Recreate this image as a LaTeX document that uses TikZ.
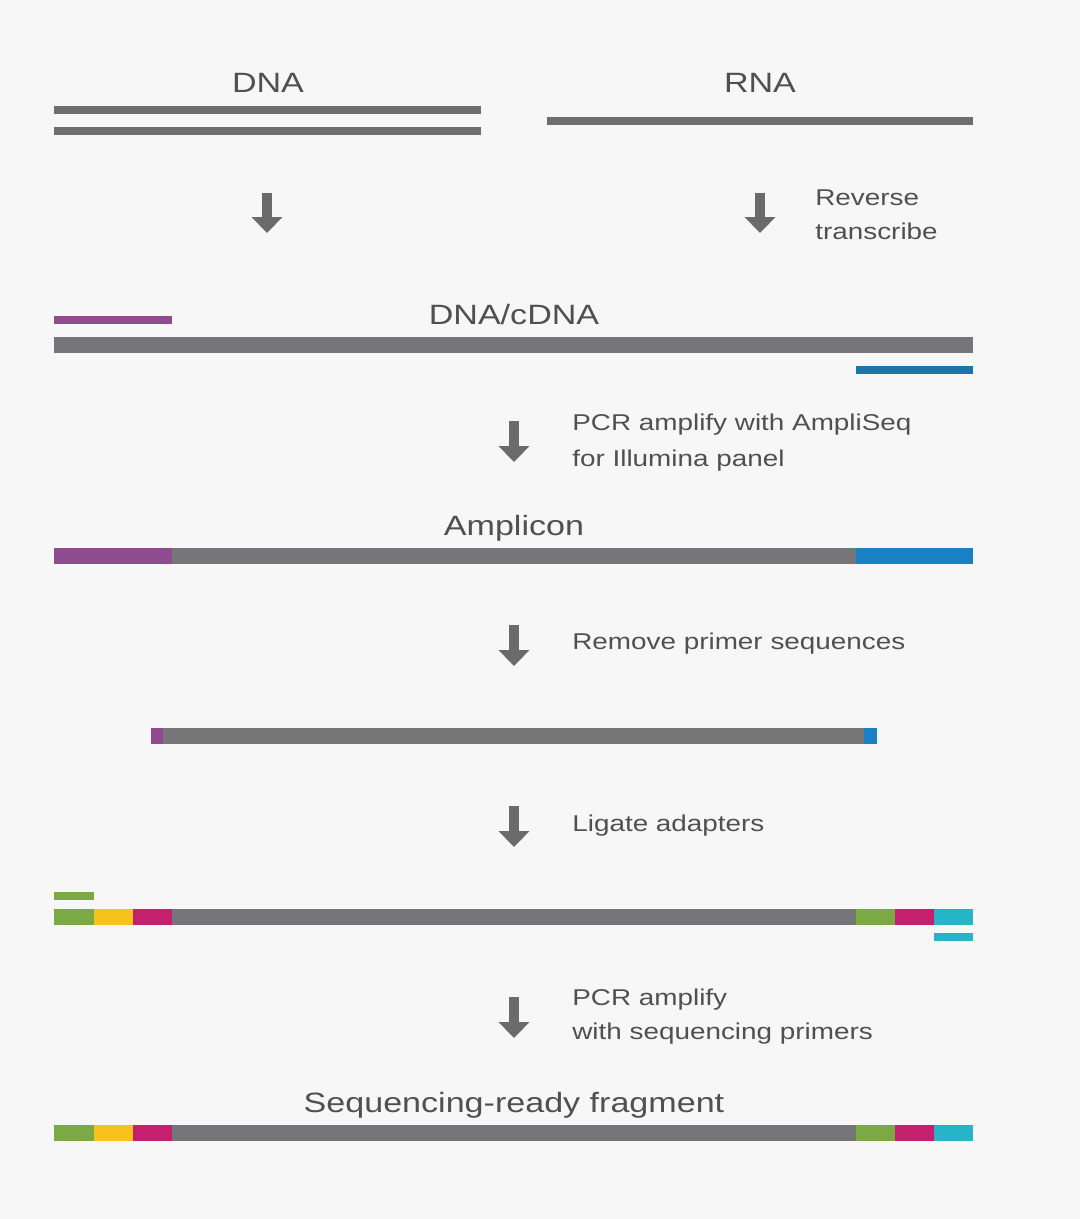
\documentclass[tikz,border=0pt]{standalone}
\usepackage{fontspec}
\setmainfont{Liberation Sans}[FakeStretch=1.22]
\usetikzlibrary{arrows.meta}
\definecolor{bg}{HTML}{F7F7F7}
\definecolor{strandgray}{HTML}{6E6E6E}
\definecolor{bargray}{HTML}{767678}
\definecolor{arrowgray}{HTML}{6B6B6B}
\definecolor{txt}{HTML}{505050}
\definecolor{purp}{HTML}{8E4C8E}
\definecolor{pblue}{HTML}{1B75A8}
\definecolor{ablue}{HTML}{1A80C4}
\definecolor{agreen}{HTML}{7BAA45}
\definecolor{ayellow}{HTML}{F7C21B}
\definecolor{amag}{HTML}{C4206E}
\definecolor{acyan}{HTML}{26B5C6}
\begin{document}
\begin{tikzpicture}[x=0.02cm,y=-0.02cm,
  bar/.style={draw=#1,line width=9.07pt,line cap=butt},
  strand/.style={draw=#1,line width=4.1pt,line cap=butt},
  titletext/.style={font=\fontsize{15.9}{19}\selectfont,text=txt,inner sep=0pt,anchor=base},
  notetext/.style={font=\fontsize{13}{19.5}\selectfont,text=txt,inner sep=0pt,anchor=base west},
  steparrow/.style={draw=arrowgray,line width=5.7pt,-{Triangle[width=17pt,length=9pt]}}]
\fill[bg] (0,0) rectangle (1080,1219);
\useasboundingbox (0,0) rectangle (1080,1219);
% titles
\node[titletext] (tdna) at (268,93) {DNA};
\node[titletext] (trna) at (760,93) {RNA};
\node[titletext] (tcdna) at (514,325) {DNA/cDNA};
\node[titletext] (tamp) at (514,535) {Amplicon};
\node[titletext] (tseq) at (514,1112) {Sequencing-ready fragment};
% step notes
\node[notetext] (n1a) at (815,206) {Reverse};
\node[notetext] (n1b) at (815,240) {transcribe};
\node[notetext] (n2a) at (572,430) {PCR amplify with AmpliSeq};
\node[notetext] (n2b) at (572,466) {for Illumina panel};
\node[notetext] (n3) at (572,649) {Remove primer sequences};
\node[notetext] (n4) at (572,831) {Ligate adapters};
\node[notetext] (n5a) at (572,1005) {PCR amplify};
\node[notetext] (n5b) at (572,1039) {with sequencing primers};
% arrows
\coordinate (a1s) at (267,193); \coordinate (a1e) at (267,233);
\coordinate (a2s) at (760,193); \coordinate (a2e) at (760,233);
\coordinate (a3s) at (514,421); \coordinate (a3e) at (514,462);
\coordinate (a4s) at (514,625); \coordinate (a4e) at (514,666);
\coordinate (a5s) at (514,806); \coordinate (a5e) at (514,847);
\coordinate (a6s) at (514,997); \coordinate (a6e) at (514,1038);
\foreach \i in {1,...,6} {\draw[steparrow] (a\i s) -- (a\i e);}
% DNA / RNA strands
\draw[strand=strandgray] (54,110) -- (481,110);
\draw[strand=strandgray] (54,131) -- (481,131);
\draw[strand=strandgray] (547,121) -- (973,121);
% DNA/cDNA with primers
\draw[strand=purp] (54,320) -- (172,320);
\draw[bar=bargray] (54,345) -- (973,345);
\draw[strand=pblue] (856,370) -- (973,370);
% amplicon
\draw[bar=purp] (54,556) -- (172,556);
\draw[bar=bargray] (172,556) -- (856,556);
\draw[bar=ablue] (856,556) -- (973,556);
% trimmed
\draw[bar=purp] (151,736) -- (163,736);
\draw[bar=bargray] (163,736) -- (864,736);
\draw[bar=ablue] (864,736) -- (877,736);
% ligated
\draw[strand=agreen] (54,896) -- (94,896);
\foreach \y in {917,1133} {
  \draw[bar=agreen] (54,\y) -- (94,\y);
  \draw[bar=ayellow] (94,\y) -- (133,\y);
  \draw[bar=amag] (133,\y) -- (172,\y);
  \draw[bar=bargray] (172,\y) -- (856,\y);
  \draw[bar=agreen] (856,\y) -- (895,\y);
  \draw[bar=amag] (895,\y) -- (934,\y);
  \draw[bar=acyan] (934,\y) -- (973,\y);
}
\draw[strand=acyan] (934,937) -- (973,937);
\end{tikzpicture}
\end{document}
